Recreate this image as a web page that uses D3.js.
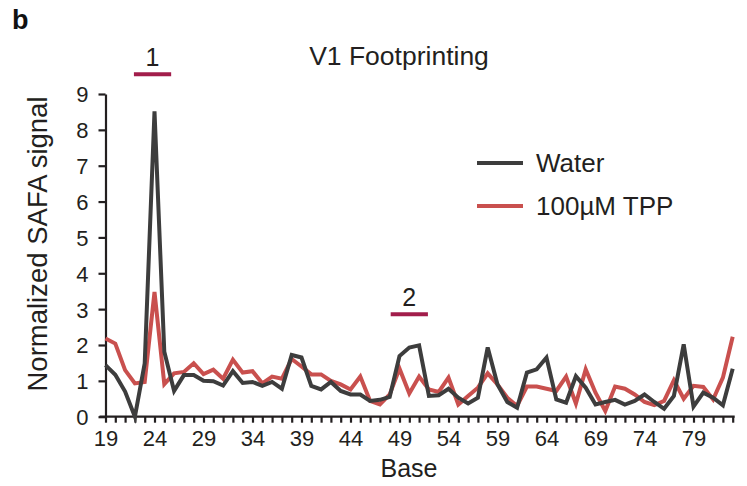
<!DOCTYPE html>
<html>
<head>
<meta charset="utf-8">
<script src="https://cdn.jsdelivr.net/npm/d3@7"></script>
<style>
  body { margin: 0; background: #fff; }
  svg { display: block; font-family: "Liberation Sans", Arial, sans-serif; }
</style>
</head>
<body>
<svg class="chart" width="747" height="486"></svg>
<script>
// Bases along the x axis (19..83)
var bases = d3.range(19, 84);
var tickLabels = [19, 24, 29, 34, 39, 44, 49, 54, 59, 64, 69, 74, 79];
var yTicks = [0, 1, 2, 3, 4, 5, 6, 7, 8, 9];

// Normalized SAFA signal, water
var water = [1.44, 1.17, 0.70, 0.00, 1.49, 8.52, 1.81, 0.72, 1.16, 1.16,
             1.00, 0.99, 0.87, 1.27, 0.94, 0.97, 0.86, 0.97, 0.78, 1.72,
             1.65, 0.86, 0.76, 0.97, 0.72, 0.62, 0.62, 0.44, 0.47, 0.55,
             1.69, 1.93, 1.99, 0.58, 0.60, 0.78, 0.53, 0.37, 0.53, 1.93,
             0.90, 0.41, 0.25, 1.23, 1.32, 1.65, 0.48, 0.39, 1.13, 0.81,
             0.34, 0.41, 0.47, 0.34, 0.44, 0.62, 0.41, 0.22, 0.58, 2.02,
             0.28, 0.67, 0.53, 0.32, 1.34];

// Normalized SAFA signal, 100uM TPP
var tpp = [2.18, 2.04, 1.30, 0.93, 0.97, 3.48, 0.91, 1.21, 1.25, 1.49,
           1.19, 1.31, 1.06, 1.59, 1.23, 1.27, 0.93, 1.12, 1.06, 1.61,
           1.40, 1.18, 1.18, 1.00, 0.90, 0.76, 1.12, 0.44, 0.34, 0.62,
           1.34, 0.65, 1.12, 0.76, 0.69, 1.09, 0.34, 0.58, 0.81, 1.21,
           0.90, 0.53, 0.30, 0.84, 0.84, 0.78, 0.72, 1.12, 0.37, 1.32,
           0.67, 0.16, 0.84, 0.78, 0.62, 0.41, 0.32, 0.44, 1.02, 0.50,
           0.86, 0.83, 0.48, 1.09, 2.23];

// Protected regions marked above the plot
var regions = [{label: "1", from: 21.9, to: 25.7, value: 9.55},
               {label: "2", from: 48.1, to: 51.9, value: 2.86}];

var series = [
    {name: "100\u00b5M TPP", values: tpp, color: "#c9504e"},
    {name: "Water", values: water, color: "#3d3d3d"}
];

var svg = d3.select(".chart");
var axisColor = "#231f20";

// Scales
var x = d3.scaleLinear().domain([19, 83]).range([105.5, 732.7]);
var y = d3.scaleLinear().domain([0, 9]).range([416.7, 94]);

// X axis
var xAxis = svg.append("g")
    .attr("transform", "translate(0," + y(0) + ")")
    .call(d3.axisBottom(x)
        .tickValues(bases)
        .tickSize(6)
        .tickSizeOuter(0)
        .tickPadding(8)
        .tickFormat(function(d) { return tickLabels.indexOf(d) >= 0 ? d : ""; }));
xAxis.select(".domain").attr("d", "M" + (x(19) - 6) + ",0H" + (x(83) + 2));

// Y axis
var yAxis = svg.append("g")
    .attr("transform", "translate(" + x(19) + ",0)")
    .call(d3.axisLeft(y)
        .tickValues(yTicks)
        .tickSize(7)
        .tickSizeOuter(0)
        .tickPadding(10));

svg.selectAll(".domain, .tick line")
    .attr("stroke", axisColor)
    .attr("stroke-width", 2.2);
svg.selectAll(".tick text")
    .attr("fill", axisColor)
    .style("font-size", "22px")
    .style("font-family", "Liberation Sans, Arial, sans-serif");
yAxis.selectAll(".tick text").attr("dy", "0.36em");

// Lines
var line = d3.line()
    .x(function(d, i) { return x(bases[i]); })
    .y(function(d) { return y(d); });

svg.selectAll(".series")
    .data(series)
    .enter()
        .append("path")
        .attr("class", "series")
        .attr("fill", "none")
        .attr("stroke", function(d) { return d.color; })
        .attr("stroke-width", 4)
        .attr("stroke-linejoin", "miter")
        .attr("d", function(d) { return line(d.values); });

// Region markers
regions.forEach(function(r) {
    svg.append("line")
        .attr("x1", x(r.from)).attr("x2", x(r.to))
        .attr("y1", y(r.value)).attr("y2", y(r.value))
        .attr("stroke", "#a21d4b")
        .attr("stroke-width", 4);
    svg.append("text")
        .attr("x", (x(r.from) + x(r.to)) / 2)
        .attr("y", y(r.value) - 8)
        .attr("text-anchor", "middle")
        .attr("fill", axisColor)
        .style("font-size", "25px")
        .text(r.label);
});

// Legend
var legend = svg.append("g").attr("transform", "translate(477,163)");
[series[1], series[0]].forEach(function(s, i) {
    legend.append("line")
        .attr("x1", 0).attr("x2", 46)
        .attr("y1", i * 43).attr("y2", i * 43)
        .attr("stroke", s.color)
        .attr("stroke-width", 4);
    legend.append("text")
        .attr("x", 59)
        .attr("y", i * 43 + 9)
        .attr("fill", axisColor)
        .style("font-size", "26px")
        .text(s.name);
});

// Titles
svg.append("text")
    .attr("x", 12).attr("y", 29)
    .attr("fill", "#111")
    .attr("font-weight", "bold")
    .style("font-size", "27px")
    .text("b");

svg.append("text")
    .attr("x", 399).attr("y", 65)
    .attr("text-anchor", "middle")
    .attr("fill", axisColor)
    .style("font-size", "26.5px")
    .text("V1 Footprinting");

svg.append("text")
    .attr("x", 409).attr("y", 477)
    .attr("text-anchor", "middle")
    .attr("fill", axisColor)
    .style("font-size", "25px")
    .text("Base");

svg.append("text")
    .attr("transform", "translate(47,244) rotate(-90)")
    .attr("text-anchor", "middle")
    .attr("fill", axisColor)
    .style("font-size", "27.5px")
    .text("Normalized SAFA signal");
</script>
</body>
</html>
